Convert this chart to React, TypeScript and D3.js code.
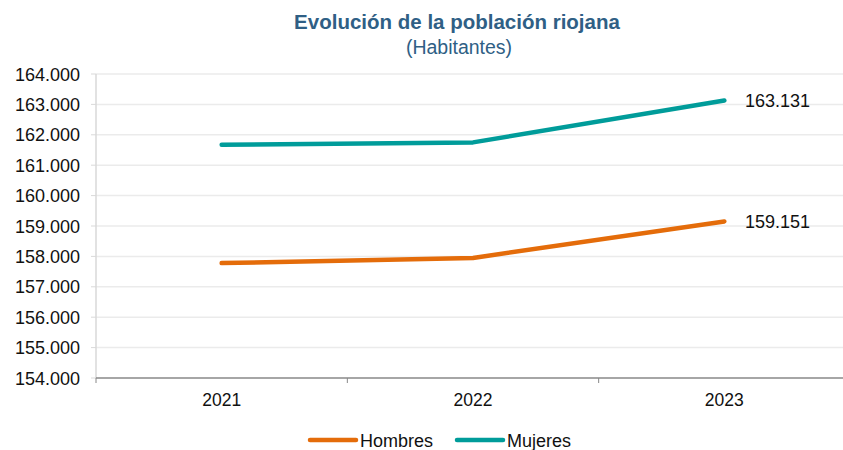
import React from "react";
import * as d3 from "d3";

const years = ["2021", "2022", "2023"];
const hombres = [157780, 157950, 159151];
const mujeres = [161670, 161750, 163131];
const yTicks = [154000, 155000, 156000, 157000, 158000, 159000, 160000, 161000, 162000, 163000, 164000];
const seriesNames = ["Hombres", "Mujeres"];

const W = 843;
const H = 450;
const left = 96;
const right = 850;
const top = 74;
const bottom = 378;
const colors = ["#E46C0A", "#009C9A"];
const font = "'Liberation Sans', Arial, sans-serif";

const fmt = (v: number) => {
  const s = Math.round(v).toString();
  return s.replace(/\B(?=(\d{3})+(?!\d))/g, ".");
};

export default function App() {
  const x = d3.scaleBand<string>().domain(years).range([left, right]);
  const y = d3.scaleLinear().domain([154000, 164000]).range([bottom, top]);
  const cx = (d: string) => (x(d) as number) + x.bandwidth() / 2;
  const line = d3
    .line<number>()
    .x((_, i) => cx(years[i]))
    .y((d) => y(d));
  const series = [hombres, mujeres];

  return (
    <svg width={W} height={H} style={{ position: "absolute", left: 0, top: 0, background: "#fff" }} fontFamily={font}>
      <text x={457} y={29} textAnchor="middle" fontSize={20.5} fontWeight="bold" fill="#2F5F85">
        Evolución de la población riojana
      </text>
      <text x={459} y={54} textAnchor="middle" fontSize={19.5} fill="#2F5F85">
        (Habitantes)
      </text>
      {yTicks.map((t) => (
        <g key={t}>
          {t !== 154000 && (
            <line x1={left} x2={right} y1={y(t)} y2={y(t)} stroke="#EBEBEB" strokeWidth={1.5} />
          )}
          <line x1={left - 5} x2={left} y1={y(t)} y2={y(t)} stroke="#D9D9D9" strokeWidth={1} />
          <text x={80} y={y(t) + 6.5} textAnchor="end" fontSize={18} fill="#111">
            {fmt(t)}
          </text>
        </g>
      ))}
      <line x1={left} x2={left} y1={top} y2={bottom} stroke="#D9D9D9" strokeWidth={1.5} />
      <line x1={left} x2={right} y1={bottom} y2={bottom} stroke="#888" strokeWidth={1.5} />
      {years.map((yr) => (
        <line key={"t" + yr} x1={x(yr) as number} x2={x(yr) as number} y1={bottom} y2={bottom + 5} stroke="#888" strokeWidth={1} />
      ))}
      {years.map((yr) => (
        <text key={yr} x={cx(yr)} y={406} textAnchor="middle" fontSize={17.5} fill="#111">
          {yr}
        </text>
      ))}
      {series.map((s, i) => (
        <path key={i} d={line(s) || ""} fill="none" stroke={colors[i]} strokeWidth={4.5} strokeLinecap="round" strokeLinejoin="round" />
      ))}
      {series.map((s, i) => (
        <text key={"l" + i} x={745} y={y(s[2]) + 6.5} fontSize={18} fill="#111">
          {fmt(s[2])}
        </text>
      ))}
      {seriesNames.map((n, i) => {
        const lx = i === 0 ? 310 : 457;
        return (
          <g key={n}>
            <line x1={lx} x2={lx + 46} y1={440} y2={440} stroke={colors[i]} strokeWidth={4.5} strokeLinecap="round" />
            <text x={lx + 50} y={446.5} fontSize={18} fill="#111">
              {n}
            </text>
          </g>
        );
      })}
    </svg>
  );
}
